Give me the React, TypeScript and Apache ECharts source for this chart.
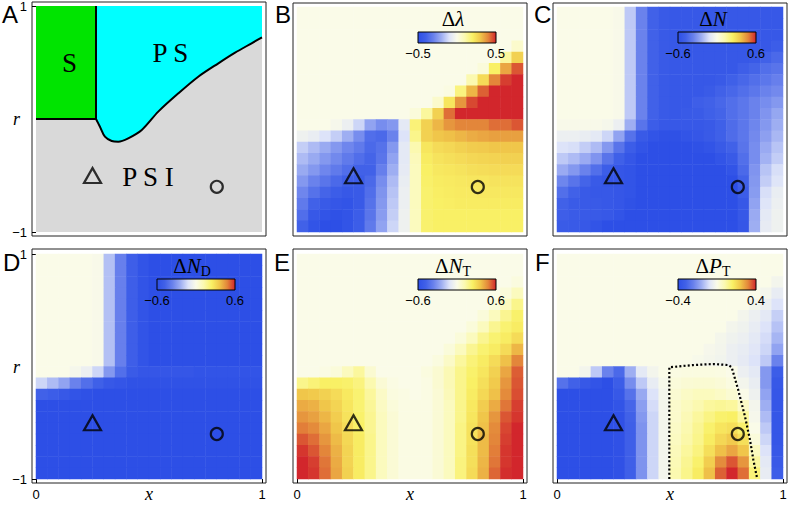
import React, { useEffect, useRef } from "react";
import * as echarts from "echarts";

const SANS = "Liberation Sans, Arial, sans-serif";
const SERIF = "Liberation Serif, Times New Roman, serif";

// colour scale, evenly spaced from -range to +range
const heatColors = [
  "#2d4fe6", "#4161e8", "#6a82ec", "#9eaef2", "#dde3f9", "#fafbe8",
  "#fbf9b0", "#f9f065", "#f0c64a", "#e3863a", "#d2262c",
];

// ---- panel A (phase diagram) ----
const sPhaseX = [0, 0.2655];
const sPhaseR = [0, 0];
const sBorderX = [0.2655, 0.2655];
const sBorderR = [0, 1];
const psBoundaryX = [0.2655, 0.283, 0.305, 0.335, 0.364, 0.408, 0.468, 0.541, 0.63, 0.718, 0.807, 0.881, 0.954, 1.0];
const psBoundaryR = [0, -0.068, -0.157, -0.195, -0.201, -0.171, -0.097, 0.065, 0.227, 0.374, 0.493, 0.587, 0.67, 0.723];

// markers (x, r)
const triangleMarker = [0.25, -0.5];
const circleMarker = [0.8, -0.6];

// ---- panel F dotted contour ----
const ptContourX = [0.497, 0.497, 0.603, 0.692, 0.758, 0.773, 0.802, 0.832, 0.854, 0.869, 0.886];
const ptContourR = [-1, -0.007, 0.013, 0.022, 0.013, -0.007, -0.209, -0.446, -0.653, -0.831, -1];

// ---- heat maps: 20 rows (top r=0.95 -> bottom r=-0.95) x 20 columns (x=0.025 -> 0.975) ----
const dLambda = [
  [0, 0, 0, 0, 0, 0, 0, 0, 0, 0, 0, 0, 0, 0, 0, 0, 0, 0, 0, 0],
  [0, 0, 0, 0, 0, 0, 0, 0, 0, 0, 0, 0, 0, 0, 0, 0, 0, 0, 0, 0],
  [0, 0, 0, 0, 0, 0, 0, 0, 0, 0, 0, 0, 0, 0, 0, 0, 0, 0, 0, 0],
  [0, 0, 0, 0, 0, 0, 0, 0, 0, 0, 0, 0, 0, 0, 0, 0, 0, 0, 0, 0.05],
  [0, 0, 0, 0, 0, 0, 0, 0, 0, 0, 0, 0, 0, 0, 0, 0, 0, 0, 0.125, 0.275],
  [0, 0, 0, 0, 0, 0, 0, 0, 0, 0, 0, 0, 0, 0, 0, 0, 0.025, 0.2, 0.35, 0.45],
  [0, 0, 0, 0, 0, 0, 0, 0, 0, 0, 0, 0, 0, 0, 0, 0.1, 0.25, 0.4, 0.475, 0.5],
  [0, 0, 0, 0, 0, 0, 0, 0, 0, 0, 0, 0, 0, 0.01, 0.165, 0.325, 0.44, 0.5, 0.5, 0.5],
  [0, 0, 0, 0, 0, 0, 0, 0, 0, 0, 0, 0, 0.05, 0.225, 0.375, 0.465, 0.5, 0.5, 0.5, 0.5],
  [0, 0, 0, 0, 0, 0, 0, 0, 0, 0, 0.025, 0.125, 0.275, 0.425, 0.5, 0.5, 0.5, 0.5, 0.5, 0.5],
  [0, 0, 0, -0.015, -0.05, -0.125, -0.225, -0.275, -0.25, -0.075, 0.175, 0.275, 0.325, 0.375, 0.4, 0.4, 0.4, 0.425, 0.425, 0.45],
  [-0.04, -0.06, -0.1, -0.14, -0.2, -0.275, -0.36, -0.375, -0.3, -0.1, 0.15, 0.275, 0.3, 0.31, 0.325, 0.34, 0.35, 0.36, 0.36, 0.36],
  [-0.14, -0.175, -0.21, -0.25, -0.29, -0.325, -0.375, -0.35, -0.25, -0.075, 0.1, 0.225, 0.25, 0.26, 0.275, 0.285, 0.29, 0.3, 0.3, 0.3],
  [-0.175, -0.21, -0.25, -0.285, -0.325, -0.36, -0.39, -0.34, -0.225, -0.075, 0.08, 0.21, 0.23, 0.24, 0.25, 0.26, 0.265, 0.27, 0.275, 0.275],
  [-0.21, -0.25, -0.29, -0.325, -0.36, -0.4, -0.4, -0.31, -0.2, -0.07, 0.075, 0.2, 0.22, 0.225, 0.23, 0.24, 0.245, 0.25, 0.25, 0.25],
  [-0.25, -0.3, -0.34, -0.375, -0.41, -0.425, -0.375, -0.275, -0.175, -0.06, 0.075, 0.195, 0.21, 0.215, 0.22, 0.225, 0.225, 0.23, 0.23, 0.23],
  [-0.29, -0.35, -0.39, -0.425, -0.45, -0.44, -0.36, -0.26, -0.16, -0.05, 0.075, 0.19, 0.205, 0.21, 0.215, 0.215, 0.22, 0.22, 0.22, 0.22],
  [-0.325, -0.4, -0.44, -0.46, -0.475, -0.44, -0.35, -0.25, -0.15, -0.05, 0.075, 0.19, 0.2, 0.205, 0.21, 0.21, 0.21, 0.21, 0.21, 0.21],
  [-0.36, -0.45, -0.475, -0.49, -0.475, -0.425, -0.34, -0.24, -0.14, -0.04, 0.075, 0.19, 0.2, 0.2, 0.2, 0.2, 0.2, 0.2, 0.2, 0.2],
  [-0.4, -0.475, -0.5, -0.5, -0.475, -0.425, -0.325, -0.225, -0.125, -0.04, 0.075, 0.19, 0.2, 0.2, 0.2, 0.2, 0.2, 0.2, 0.2, 0.2],
];

const dN = [
  [0, 0, 0, 0, 0, -0.01, -0.18, -0.36, -0.48, -0.53, -0.54, -0.54, -0.54, -0.54, -0.54, -0.54, -0.54, -0.54, -0.54, -0.54],
  [0, 0, 0, 0, 0, -0.01, -0.18, -0.36, -0.48, -0.53, -0.54, -0.54, -0.54, -0.54, -0.54, -0.54, -0.54, -0.54, -0.54, -0.54],
  [0, 0, 0, 0, 0, -0.01, -0.18, -0.36, -0.48, -0.53, -0.54, -0.54, -0.54, -0.54, -0.54, -0.54, -0.54, -0.54, -0.54, -0.54],
  [0, 0, 0, 0, 0, -0.01, -0.18, -0.36, -0.48, -0.53, -0.54, -0.54, -0.54, -0.54, -0.54, -0.54, -0.54, -0.54, -0.54, -0.51],
  [0, 0, 0, 0, 0, -0.01, -0.18, -0.36, -0.48, -0.53, -0.54, -0.54, -0.54, -0.54, -0.54, -0.54, -0.54, -0.53, -0.48, -0.45],
  [0, 0, 0, 0, 0, -0.01, -0.18, -0.36, -0.48, -0.53, -0.54, -0.54, -0.54, -0.54, -0.54, -0.54, -0.5, -0.47, -0.43, -0.41],
  [0, 0, 0, 0, 0, -0.01, -0.18, -0.36, -0.48, -0.53, -0.54, -0.54, -0.54, -0.54, -0.53, -0.49, -0.46, -0.43, -0.4, -0.37],
  [0, 0, 0, 0, 0, -0.01, -0.18, -0.36, -0.48, -0.53, -0.54, -0.54, -0.54, -0.52, -0.48, -0.46, -0.43, -0.4, -0.36, -0.34],
  [0, 0, 0, 0, 0, -0.01, -0.18, -0.36, -0.48, -0.53, -0.54, -0.54, -0.5, -0.48, -0.46, -0.43, -0.4, -0.36, -0.33, -0.3],
  [0, 0, 0, 0, 0, -0.01, -0.18, -0.36, -0.48, -0.53, -0.54, -0.53, -0.52, -0.49, -0.47, -0.43, -0.4, -0.36, -0.31, -0.26],
  [-0.01, -0.01, -0.01, -0.01, -0.02, -0.06, -0.24, -0.41, -0.51, -0.54, -0.54, -0.54, -0.54, -0.53, -0.49, -0.44, -0.4, -0.35, -0.3, -0.24],
  [-0.06, -0.06, -0.07, -0.09, -0.15, -0.27, -0.42, -0.53, -0.57, -0.59, -0.59, -0.57, -0.55, -0.53, -0.49, -0.44, -0.4, -0.34, -0.28, -0.22],
  [-0.12, -0.13, -0.17, -0.21, -0.3, -0.41, -0.51, -0.57, -0.6, -0.6, -0.6, -0.6, -0.59, -0.57, -0.53, -0.48, -0.41, -0.33, -0.25, -0.19],
  [-0.18, -0.21, -0.25, -0.31, -0.41, -0.49, -0.55, -0.6, -0.6, -0.6, -0.6, -0.6, -0.6, -0.6, -0.57, -0.53, -0.43, -0.33, -0.23, -0.17],
  [-0.25, -0.3, -0.36, -0.43, -0.51, -0.55, -0.57, -0.6, -0.6, -0.6, -0.6, -0.6, -0.6, -0.6, -0.6, -0.57, -0.45, -0.31, -0.19, -0.13],
  [-0.35, -0.41, -0.47, -0.53, -0.55, -0.55, -0.57, -0.6, -0.6, -0.6, -0.6, -0.6, -0.6, -0.6, -0.6, -0.6, -0.48, -0.3, -0.17, -0.11],
  [-0.43, -0.48, -0.53, -0.54, -0.54, -0.55, -0.57, -0.6, -0.6, -0.6, -0.6, -0.6, -0.6, -0.6, -0.6, -0.6, -0.51, -0.29, -0.13, -0.07],
  [-0.48, -0.52, -0.53, -0.53, -0.54, -0.55, -0.58, -0.6, -0.6, -0.6, -0.6, -0.6, -0.6, -0.6, -0.6, -0.6, -0.54, -0.27, -0.11, -0.06],
  [-0.5, -0.52, -0.53, -0.53, -0.54, -0.57, -0.6, -0.6, -0.6, -0.6, -0.6, -0.6, -0.6, -0.6, -0.6, -0.6, -0.54, -0.25, -0.09, -0.05],
  [-0.52, -0.53, -0.54, -0.57, -0.6, -0.6, -0.6, -0.6, -0.6, -0.6, -0.6, -0.6, -0.6, -0.6, -0.6, -0.6, -0.55, -0.24, -0.08, -0.05],
];

const dND = [
  [0, 0, 0, 0, 0, -0.01, -0.2, -0.37, -0.5, -0.57, -0.6, -0.6, -0.6, -0.6, -0.6, -0.6, -0.6, -0.6, -0.6, -0.6],
  [0, 0, 0, 0, 0, -0.01, -0.2, -0.37, -0.5, -0.57, -0.6, -0.6, -0.6, -0.6, -0.6, -0.6, -0.6, -0.6, -0.6, -0.6],
  [0, 0, 0, 0, 0, -0.01, -0.2, -0.37, -0.5, -0.57, -0.6, -0.6, -0.6, -0.6, -0.6, -0.6, -0.6, -0.6, -0.6, -0.6],
  [0, 0, 0, 0, 0, -0.01, -0.2, -0.37, -0.5, -0.57, -0.6, -0.6, -0.6, -0.6, -0.6, -0.6, -0.6, -0.6, -0.6, -0.6],
  [0, 0, 0, 0, 0, -0.01, -0.2, -0.37, -0.5, -0.57, -0.6, -0.6, -0.6, -0.6, -0.6, -0.6, -0.6, -0.6, -0.6, -0.6],
  [0, 0, 0, 0, 0, -0.01, -0.2, -0.37, -0.5, -0.57, -0.6, -0.6, -0.6, -0.6, -0.6, -0.6, -0.6, -0.6, -0.6, -0.6],
  [0, 0, 0, 0, 0, -0.01, -0.2, -0.37, -0.5, -0.57, -0.6, -0.6, -0.6, -0.6, -0.6, -0.6, -0.6, -0.6, -0.6, -0.6],
  [0, 0, 0, 0, 0, -0.01, -0.2, -0.37, -0.5, -0.57, -0.6, -0.6, -0.6, -0.6, -0.6, -0.6, -0.6, -0.6, -0.6, -0.6],
  [0, 0, 0, 0, 0, -0.01, -0.2, -0.37, -0.5, -0.57, -0.6, -0.6, -0.6, -0.6, -0.6, -0.6, -0.6, -0.6, -0.6, -0.6],
  [0, 0, 0, 0, 0, -0.01, -0.2, -0.37, -0.5, -0.57, -0.6, -0.6, -0.6, -0.6, -0.6, -0.6, -0.6, -0.6, -0.6, -0.6],
  [0, 0, 0, -0.02, -0.06, -0.15, -0.3, -0.43, -0.52, -0.55, -0.55, -0.55, -0.55, -0.55, -0.57, -0.57, -0.57, -0.57, -0.57, -0.57],
  [-0.15, -0.21, -0.27, -0.36, -0.43, -0.49, -0.54, -0.56, -0.58, -0.58, -0.58, -0.58, -0.58, -0.58, -0.58, -0.58, -0.58, -0.58, -0.58, -0.58],
  [-0.48, -0.51, -0.54, -0.57, -0.59, -0.6, -0.6, -0.6, -0.6, -0.6, -0.6, -0.6, -0.6, -0.6, -0.6, -0.6, -0.6, -0.6, -0.6, -0.6],
  [-0.6, -0.6, -0.6, -0.6, -0.6, -0.6, -0.6, -0.6, -0.6, -0.6, -0.6, -0.6, -0.6, -0.6, -0.6, -0.6, -0.6, -0.6, -0.6, -0.6],
  [-0.6, -0.6, -0.6, -0.6, -0.6, -0.6, -0.6, -0.6, -0.6, -0.6, -0.6, -0.6, -0.6, -0.6, -0.6, -0.6, -0.6, -0.6, -0.6, -0.6],
  [-0.6, -0.6, -0.6, -0.6, -0.6, -0.6, -0.6, -0.6, -0.6, -0.6, -0.6, -0.6, -0.6, -0.6, -0.6, -0.6, -0.6, -0.6, -0.6, -0.6],
  [-0.6, -0.6, -0.6, -0.6, -0.6, -0.6, -0.6, -0.6, -0.6, -0.6, -0.6, -0.6, -0.6, -0.6, -0.6, -0.6, -0.6, -0.6, -0.6, -0.6],
  [-0.6, -0.6, -0.6, -0.6, -0.6, -0.6, -0.6, -0.6, -0.6, -0.6, -0.6, -0.6, -0.6, -0.6, -0.6, -0.6, -0.6, -0.6, -0.6, -0.6],
  [-0.6, -0.6, -0.6, -0.6, -0.6, -0.6, -0.6, -0.6, -0.6, -0.6, -0.6, -0.6, -0.6, -0.6, -0.6, -0.6, -0.6, -0.6, -0.6, -0.6],
  [-0.6, -0.6, -0.6, -0.6, -0.6, -0.6, -0.6, -0.6, -0.6, -0.6, -0.6, -0.6, -0.6, -0.6, -0.6, -0.6, -0.6, -0.6, -0.6, -0.6],
];

const dNT = [
  [0, 0, 0, 0, 0, 0, 0, 0, 0, 0, 0, 0, 0, 0, 0, 0, 0, 0, 0, 0],
  [0, 0, 0, 0, 0, 0, 0, 0, 0, 0, 0, 0, 0, 0, 0, 0, 0, 0, 0, 0],
  [0, 0, 0, 0, 0, 0, 0, 0, 0, 0, 0, 0, 0, 0, 0, 0, 0, 0, 0, 0.02],
  [0, 0, 0, 0, 0, 0, 0, 0, 0, 0, 0, 0, 0, 0, 0, 0, 0, 0, 0.03, 0.09],
  [0, 0, 0, 0, 0, 0, 0, 0, 0, 0, 0, 0, 0, 0, 0, 0, 0, 0.03, 0.09, 0.18],
  [0, 0, 0, 0, 0, 0, 0, 0, 0, 0, 0, 0, 0, 0, 0, 0, 0.03, 0.09, 0.17, 0.23],
  [0, 0, 0, 0, 0, 0, 0, 0, 0, 0, 0, 0, 0, 0, 0, 0.03, 0.09, 0.17, 0.22, 0.25],
  [0, 0, 0, 0, 0, 0, 0, 0, 0, 0, 0, 0, 0, 0, 0.03, 0.09, 0.17, 0.22, 0.25, 0.3],
  [0, 0, 0, 0, 0, 0, 0, 0, 0, 0, 0, 0, 0, 0.03, 0.09, 0.17, 0.22, 0.25, 0.3, 0.39],
  [0, 0, 0, 0, 0, 0, 0, 0, 0, 0, 0, 0, 0.02, 0.07, 0.15, 0.21, 0.25, 0.3, 0.37, 0.48],
  [0, 0, 0.01, 0.03, 0.09, 0.15, 0.05, 0, 0, 0, 0, 0.02, 0.05, 0.11, 0.18, 0.23, 0.27, 0.33, 0.42, 0.53],
  [0.18, 0.21, 0.24, 0.24, 0.23, 0.2, 0.12, 0.04, 0.01, 0, 0, 0.01, 0.05, 0.11, 0.18, 0.24, 0.29, 0.35, 0.45, 0.54],
  [0.36, 0.35, 0.33, 0.3, 0.26, 0.22, 0.15, 0.07, 0.02, 0.01, 0, 0.01, 0.04, 0.1, 0.18, 0.25, 0.31, 0.37, 0.47, 0.55],
  [0.41, 0.4, 0.36, 0.32, 0.27, 0.22, 0.16, 0.08, 0.03, 0.01, 0.01, 0.01, 0.04, 0.09, 0.18, 0.26, 0.34, 0.41, 0.5, 0.57],
  [0.45, 0.43, 0.39, 0.34, 0.28, 0.23, 0.17, 0.09, 0.04, 0.01, 0.01, 0.01, 0.04, 0.09, 0.18, 0.27, 0.36, 0.45, 0.54, 0.58],
  [0.49, 0.47, 0.42, 0.36, 0.3, 0.24, 0.17, 0.09, 0.04, 0.01, 0.01, 0.01, 0.04, 0.09, 0.19, 0.28, 0.37, 0.47, 0.56, 0.6],
  [0.54, 0.51, 0.45, 0.38, 0.31, 0.25, 0.18, 0.09, 0.04, 0.01, 0.01, 0.01, 0.04, 0.09, 0.19, 0.28, 0.38, 0.48, 0.57, 0.6],
  [0.58, 0.54, 0.48, 0.4, 0.32, 0.25, 0.18, 0.09, 0.04, 0.01, 0.01, 0.01, 0.04, 0.09, 0.19, 0.29, 0.38, 0.49, 0.58, 0.6],
  [0.6, 0.57, 0.5, 0.41, 0.32, 0.25, 0.18, 0.09, 0.04, 0.01, 0.01, 0.01, 0.04, 0.09, 0.2, 0.29, 0.39, 0.5, 0.58, 0.6],
  [0.6, 0.58, 0.51, 0.42, 0.33, 0.25, 0.18, 0.09, 0.04, 0.01, 0.01, 0.01, 0.04, 0.09, 0.2, 0.3, 0.4, 0.52, 0.59, 0.6],
];

const dPT = [
  [0, 0, 0, 0, 0, 0, 0, 0, 0, 0, 0, 0, 0, 0, 0, 0, 0, 0, 0, 0],
  [0, 0, 0, 0, 0, 0, 0, 0, 0, 0, 0, 0, 0, 0, 0, 0, 0, 0, 0, 0],
  [0, 0, 0, 0, 0, 0, 0, 0, 0, 0, 0, 0, 0, 0, 0, 0, 0, 0, 0, -0.02],
  [0, 0, 0, 0, 0, 0, 0, 0, 0, 0, 0, 0, 0, 0, 0, 0, 0, 0, -0.02, -0.05],
  [0, 0, 0, 0, 0, 0, 0, 0, 0, 0, 0, 0, 0, 0, 0, 0, 0, -0.02, -0.04, -0.08],
  [0, 0, 0, 0, 0, 0, 0, 0, 0, 0, 0, 0, 0, 0, 0, 0, -0.02, -0.04, -0.06, -0.11],
  [0, 0, 0, 0, 0, 0, 0, 0, 0, 0, 0, 0, 0, 0, 0, -0.02, -0.03, -0.05, -0.08, -0.13],
  [0, 0, 0, 0, 0, 0, 0, 0, 0, 0, 0, 0, 0, 0, -0.016, -0.03, -0.04, -0.06, -0.09, -0.15],
  [0, 0, 0, 0, 0, 0, 0, 0, 0, 0, 0, 0, 0, -0.012, -0.02, -0.04, -0.05, -0.07, -0.1, -0.18],
  [0, 0, 0, 0, 0, 0, 0, 0, 0, 0, 0, 0, -0.008, -0.016, -0.024, -0.04, -0.056, -0.08, -0.12, -0.24],
  [0, 0, -0.02, -0.12, -0.24, -0.3, -0.16, -0.06, -0.02, 0, 0.008, 0.012, 0.012, 0.012, 0.008, 0, -0.04, -0.06, -0.2, -0.34],
  [-0.28, -0.32, -0.36, -0.38, -0.4, -0.34, -0.22, -0.12, -0.05, -0.01, 0.02, 0.028, 0.032, 0.032, 0.024, 0.012, -0.02, -0.048, -0.2, -0.36],
  [-0.4, -0.4, -0.4, -0.4, -0.4, -0.36, -0.28, -0.17, -0.08, -0.02, 0.032, 0.048, 0.06, 0.06, 0.048, 0.032, 0, -0.032, -0.18, -0.37],
  [-0.4, -0.4, -0.4, -0.4, -0.4, -0.38, -0.31, -0.19, -0.09, -0.02, 0.04, 0.06, 0.08, 0.1, 0.108, 0.1, 0.048, -0.02, -0.16, -0.37],
  [-0.4, -0.4, -0.4, -0.4, -0.4, -0.39, -0.32, -0.2, -0.1, -0.02, 0.04, 0.072, 0.1, 0.128, 0.152, 0.16, 0.1, -0.012, -0.14, -0.37],
  [-0.4, -0.4, -0.4, -0.4, -0.4, -0.39, -0.33, -0.21, -0.1, -0.02, 0.048, 0.08, 0.112, 0.152, 0.18, 0.192, 0.152, 0, -0.12, -0.37],
  [-0.4, -0.4, -0.4, -0.4, -0.4, -0.39, -0.33, -0.21, -0.1, -0.02, 0.056, 0.088, 0.12, 0.168, 0.208, 0.232, 0.192, 0.02, -0.1, -0.37],
  [-0.4, -0.4, -0.4, -0.4, -0.4, -0.39, -0.33, -0.21, -0.1, -0.02, 0.064, 0.1, 0.132, 0.192, 0.248, 0.28, 0.24, 0.06, -0.08, -0.36],
  [-0.4, -0.4, -0.4, -0.4, -0.4, -0.39, -0.33, -0.21, -0.1, -0.02, 0.072, 0.112, 0.152, 0.224, 0.312, 0.36, 0.3, 0.1, -0.06, -0.35],
  [-0.4, -0.4, -0.4, -0.4, -0.4, -0.39, -0.33, -0.21, -0.1, -0.02, 0.08, 0.12, 0.168, 0.248, 0.352, 0.4, 0.34, 0.14, -0.05, -0.34],
];

const heatRanges = [0.5, 0.6, 0.6, 0.6, 0.4];
const colorbarTicks = [["\u22120.5", "0.5"], ["\u22120.6", "0.6"], ["\u22120.6", "0.6"], ["\u22120.6", "0.6"], ["\u22120.4", "0.4"]];
const colorbarTitles = ["{d|\u0394}{i|\u03bb}", "{d|\u0394}{i|N}", "{d|\u0394}{i|N}{s|D}", "{d|\u0394}{i|N}{s|T}", "{d|\u0394}{i|P}{s|T}"];
const heatData = [dLambda, dN, dND, dNT, dPT];

// ---- layout (positions and styles) ----
const PANELS = [
  { letter: "A", left: 36, top: 6, w: 226, h: 226, lx: 2, ly: 14, xLab: false, yLab: true },
  { letter: "B", left: 297, top: 7, w: 226, h: 225, lx: 275, ly: 14, xLab: false, yLab: false },
  { letter: "C", left: 557, top: 7, w: 226, h: 225, lx: 534, ly: 14, xLab: false, yLab: false },
  { letter: "D", left: 36, top: 254, w: 226, h: 225, lx: 3, ly: 262, xLab: true, yLab: true },
  { letter: "E", left: 297, top: 254, w: 226, h: 225, lx: 274, ly: 262, xLab: true, yLab: false },
  { letter: "F", left: 557, top: 254, w: 226, h: 225, lx: 535, ly: 262, xLab: true, yLab: false },
];

const fmt = (v: number) => (v < 0 ? "\u2212" + Math.abs(v) : String(v));

function buildOption() {
  const grid: any[] = [];
  const xAxis: any[] = [];
  const yAxis: any[] = [];
  const series: any[] = [];
  const visualMap: any[] = [];
  const graphic: any[] = [];
  const gradient = {
    type: "linear", x: 0, y: 0, x2: 1, y2: 0,
    colorStops: heatColors.map((c, i) => ({ offset: i / (heatColors.length - 1), color: c })),
  };

  PANELS.forEach((p, g) => {
    grid.push({
      left: p.left, top: p.top, width: p.w, height: p.h,
      show: g === 0, backgroundColor: "#d9d9d9", borderWidth: 0,
      containLabel: false, outerBoundsMode: "none",
    });
    const vx = xAxis.length;
    xAxis.push({
      type: "value", gridIndex: g, position: "bottom", min: 0, max: 1, show: p.xLab,
      axisLine: { show: false, onZero: false }, splitLine: { show: false },
      axisTick: { show: true, length: 4, customValues: [0, 1], lineStyle: { color: "#000", width: 1 } },
      axisLabel: { customValues: [0, 1], formatter: fmt, margin: 9, fontSize: 13, color: "#000", fontFamily: SANS },
      name: "x", nameLocation: "middle", nameGap: 6, nameMoveOverlap: false,
      nameTextStyle: { fontFamily: SERIF, fontStyle: "italic", fontSize: 18, color: "#000" },
    });
    const vy = yAxis.length;
    yAxis.push({
      type: "value", gridIndex: g, position: "left", min: -1, max: 1, show: p.yLab,
      axisLine: { show: false, onZero: false }, splitLine: { show: false },
      axisTick: { show: true, length: 4, customValues: [-1, 1], lineStyle: { color: "#000", width: 1 } },
      axisLabel: { customValues: [-1, 1], formatter: fmt, margin: 9, fontSize: 13, color: "#000", fontFamily: SANS },
      name: "r", nameLocation: "middle", nameRotate: 0, nameGap: 16, nameMoveOverlap: false,
      nameTextStyle: { fontFamily: SERIF, fontStyle: "italic", fontSize: 18, color: "#000" },
    });

    // frame
    graphic.push({
      type: "rect", silent: true,
      shape: { x: p.left - 4, y: p.top - (g >= 3 ? 5 : 4), width: p.w + 8, height: p.h + (g >= 3 ? 9 : 8) },
      style: { fill: "none", stroke: "#222", lineWidth: 1 },
    });
    graphic.push({
      type: "text", x: p.lx, y: p.ly, silent: true,
      style: { text: p.letter, fontSize: 24, fontFamily: SANS, fill: "#000", align: "left", verticalAlign: "middle" },
    });

    if (g === 0) {
      series.push({
        type: "line", xAxisIndex: vx, yAxisIndex: vy, silent: true, showSymbol: false, z: 2,
        data: sPhaseX.map((x, i) => [x, sPhaseR[i]]),
        lineStyle: { color: "#000", width: 2 },
        areaStyle: { color: "#00e400", opacity: 1, origin: "end" },
      });
      series.push({
        type: "line", xAxisIndex: vx, yAxisIndex: vy, silent: true, showSymbol: false, z: 2, smooth: 0.3,
        data: psBoundaryX.map((x, i) => [x, psBoundaryR[i]]),
        lineStyle: { color: "#000", width: 2 },
        areaStyle: { color: "#00ffff", opacity: 1, origin: "end" },
      });
      series.push({
        type: "line", xAxisIndex: vx, yAxisIndex: vy, silent: true, showSymbol: false, z: 3,
        data: sBorderX.map((x, i) => [x, sBorderR[i]]),
        lineStyle: { color: "#000", width: 2 },
      });
      const txt = (t: string, x: number, y: number) => ({
        type: "text", x, y, silent: true, z: 10,
        style: { text: t, fontSize: 27, fontFamily: SERIF, fill: "#000", align: "center", verticalAlign: "middle" },
      });
      graphic.push(txt("S", 69.5, 63));
      graphic.push(txt("P S", 170.5, 53));
      graphic.push(txt("P S I", 148, 176.5));
    } else {
      const k = g - 1;
      const rows = heatData[k];
      const cols = rows[0].map((_, i) => String(i));
      const rowNames = rows.map((_, j) => String(j));
      const cx = xAxis.length;
      xAxis.push({ type: "category", gridIndex: g, position: "top", data: cols, show: false });
      const cy = yAxis.length;
      yAxis.push({ type: "category", gridIndex: g, position: "right", data: rowNames, inverse: true, show: false });
      const sIdx = series.length;
      series.push({
        type: "heatmap", xAxisIndex: cx, yAxisIndex: cy, silent: true, z: 1,
        data: rows.flatMap((row, j) => row.map((v, i) => [i, j, v])),
        itemStyle: { borderWidth: 0 }, emphasis: { disabled: true },
      });
      visualMap.push({
        type: "continuous", show: false, seriesIndex: sIdx, dimension: 2,
        min: -heatRanges[k], max: heatRanges[k], inRange: { color: heatColors },
      });
      if (g === 5) {
        series.push({
          type: "line", xAxisIndex: vx, yAxisIndex: vy, silent: true, showSymbol: false, z: 3,
          data: ptContourX.map((x, i) => [x, ptContourR[i]]),
          lineStyle: { color: "#000", width: 2.2, type: [2, 2.2] },
        });
      }
      // colour bar
      const bx = p.left + 121, by = p.top + 25, bw = 78, bh = 11;
      graphic.push({
        type: "rect", silent: true, z: 10,
        shape: { x: bx, y: by, width: bw, height: bh },
        style: { fill: gradient, stroke: "#000", lineWidth: 1 },
      });
      const lab = (t: string, x: number) => ({
        type: "text", x, y: by + bh + 10, silent: true, z: 10,
        style: { text: t, fontSize: 13, fontFamily: SANS, fill: "#000", align: "center", verticalAlign: "middle" },
      });
      graphic.push(lab(colorbarTicks[k][0], bx));
      graphic.push(lab(colorbarTicks[k][1], bx + bw));
      graphic.push({
        type: "text", x: bx + bw / 2 - 4, y: by - 12, silent: true, z: 10,
        style: {
          text: colorbarTitles[k], align: "center", verticalAlign: "middle", fill: "#000",
          rich: {
            d: { fontFamily: SERIF, fontSize: 21, verticalAlign: "bottom", padding: [0, 0, 2, 0] },
            i: { fontFamily: SERIF, fontStyle: "italic", fontSize: 21, verticalAlign: "bottom", padding: [0, 0, 2, 0] },
            s: { fontFamily: SERIF, fontSize: 14, verticalAlign: "bottom" },
          },
        },
      });
    }
    // markers
    series.push({
      type: "scatter", xAxisIndex: vx, yAxisIndex: vy, silent: true, z: 4,
      data: [triangleMarker], symbol: "triangle", symbolSize: [17, 15],
      itemStyle: { color: "rgba(0,0,0,0)", borderColor: "#000", borderWidth: 2.2 },
    });
    series.push({
      type: "scatter", xAxisIndex: vx, yAxisIndex: vy, silent: true, z: 4,
      data: [circleMarker], symbol: "circle", symbolSize: 12,
      itemStyle: { color: "rgba(0,0,0,0)", borderColor: "#000", borderWidth: 2.2 },
    });
  });

  return {
    animation: false,
    backgroundColor: "#ffffff",
    grid, xAxis, yAxis, series, visualMap, graphic,
  };
}

export default function App() {
  const ref = useRef<HTMLDivElement>(null);
  useEffect(() => {
    document.body.style.margin = "0";
    const chart = echarts.init(ref.current as HTMLDivElement, null, { renderer: "svg", width: 789, height: 505 });
    chart.setOption(buildOption() as any);
    return () => chart.dispose();
  }, []);
  return <div ref={ref} style={{ position: "absolute", left: 0, top: 0, width: 789, height: 505 }} />;
}
